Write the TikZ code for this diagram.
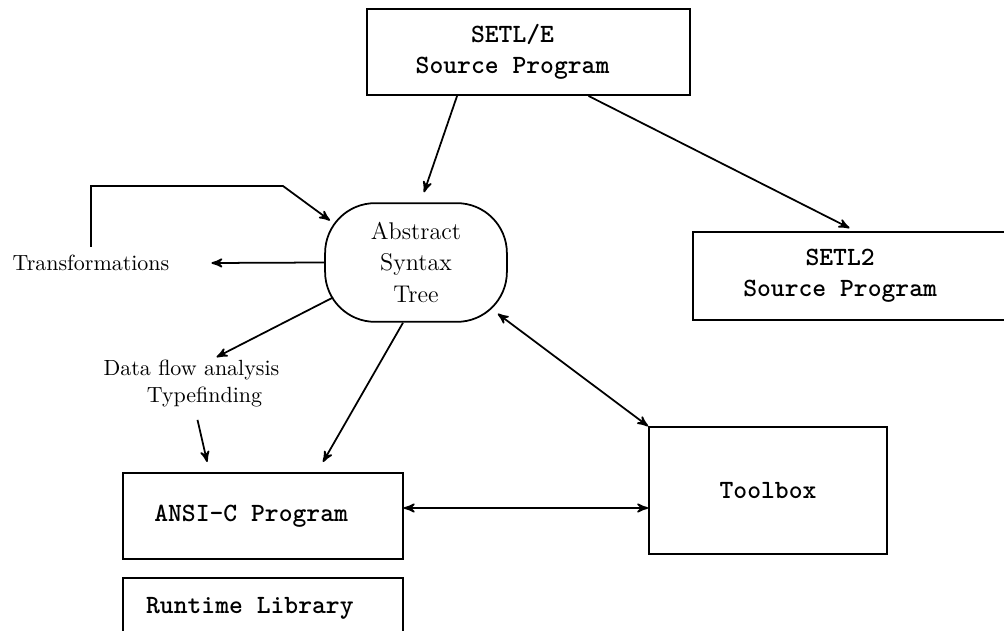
\documentclass[tikz,border=0pt]{standalone}
\usepackage{tikz}
\usetikzlibrary{arrows,calc}
\tikzset{
 >=stealth',
 prog/.style={draw, shape=rectangle, font=\large\ttfamily\bfseries, align=center},
 tree/.style={draw, shape=rectangle, rounded corners=0.8cm, font=\fontsize{11}{14.5}\selectfont, align=center},
 note/.style={shape=rectangle, font=\normalsize}
}
\begin{document}
\begin{tikzpicture}[x=0.016cm,y=-0.016cm,line width=0.8pt]
\useasboundingbox (0,0) rectangle (1004,631);

\path (528.5,52) node[name=setle,prog,minimum width=5.17cm,minimum height=1.38cm] {SETL/E\hspace*{0.51cm}\\Source Program\hspace*{0.51cm}};
\path (849.5,276) node[name=setl2,prog,minimum width=5.01cm,minimum height=1.41cm] {SETL2\hspace*{0.3cm}\\Source Program\hspace*{0.3cm}};
\path (416,262.5) node[name=ast,tree,minimum width=2.91cm,minimum height=1.9cm] {Abstract\\Syntax\\Tree};
\path (768,490.5) node[name=toolbox,prog,minimum width=3.81cm,minimum height=2.03cm] {Toolbox};
\path (263,516) node[name=ansic,prog,minimum width=4.48cm,minimum height=1.38cm] {ANSI-C Program\hspace*{0.38cm}};
\path (263,608) node[name=runtime,prog,minimum width=4.48cm,minimum height=0.96cm] {Runtime Library\hspace*{0.42cm}};

\path (91,263) node[name=trans,note] {Transformations};
\path (191.5,383.5) node[name=flow,note,align=left] {Data flow analysis\\\hspace*{0.69cm}Typefinding};

% front end
\path[->] ($(setle.south west)!0.28!(setle.south east)$) edge ($(ast.north)+(8,-10)$);
\path[->] ($(setle.south west)!0.685!(setle.south east)$) edge ($(setl2.north)+(0,-3)$);

% transformation loop
\coordinate (tbend) at (283,186);
\draw[->] (trans.north) |- (tbend) -- ($(ast.center)+(-86,-42)$);
\path[->] (ast.west) edge ($(trans.east)+(34,0)$);

% analysis and code generation
\path[->] ($(ast.center)+(-83,35)$) edge ($(flow.north)+(25,5)$);
\path[->] ($(flow.south)+(6,5)$) edge ($(ansic.north west)+(85,-10)$);
\path[->] ($(ast.south)+(-13,0)$) edge ($(ansic.north)+(60,-10)$);

% toolbox
\path[<->] ($(ast.south east)+(-10,-9)$) edge (toolbox.north west);
\coordinate (cl) at ($(ansic.east)+(0,-8)$);
\path[<->] (cl) edge (cl -| toolbox.west);
\end{tikzpicture}
\end{document}
